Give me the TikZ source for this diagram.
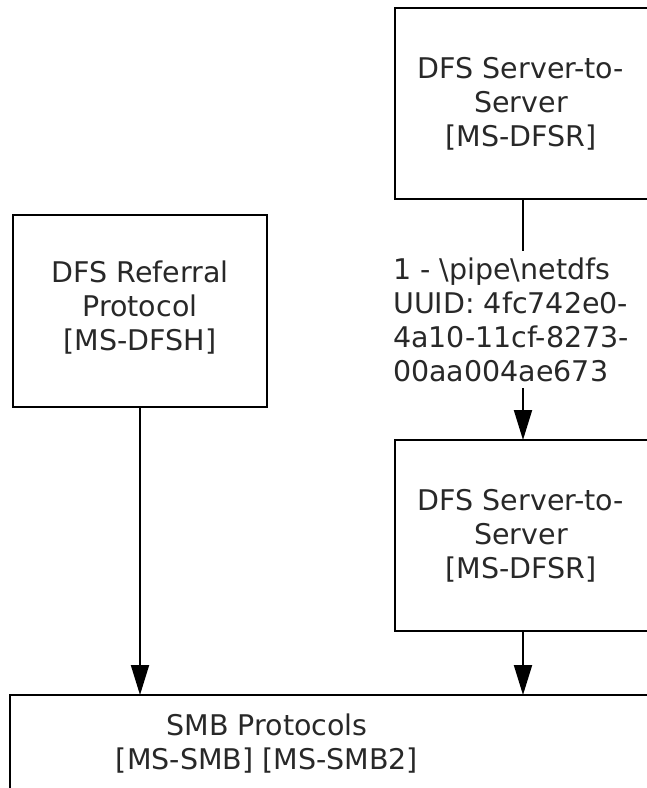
\documentclass[tikz,border=0pt]{standalone}
\usepackage{fontspec}
\setmainfont{DejaVu Sans}
\usetikzlibrary{arrows.meta}
\definecolor{txt}{RGB}{40,40,40}
\begin{document}
\begin{tikzpicture}[x=1pt,y=-1pt,
  box/.style={draw=black,line width=2.2pt},
  lbl/.style={text=txt,font=\fontsize{28.5}{34}\selectfont,align=center,inner sep=0pt},
  arr/.style={line width=2pt,-{Triangle[width=18pt,length=30pt]}}]
\useasboundingbox (0,0) rectangle (647,788);
% boxes
\draw[box] (395,8) rectangle (670,199);
\draw[box] (13,215) rectangle (267,407);
\draw[box] (395,440) rectangle (670,631);
\draw[box] (10,695) rectangle (670,810);
% texts
\node[lbl] (srv1) at (521,104) {DFS Server-to-\\Server\\{[MS-DFSR]}};
\node[lbl] (ref) at (140,308) {DFS Referral\\Protocol\\{[MS-DFSH]}};
\node[lbl] (srv2) at (521,536) {DFS Server-to-\\Server\\{[MS-DFSR]}};
\node[lbl] (smb) at (267,744) {SMB Protocols\\{[MS-SMB] [MS-SMB2]}};
\node[lbl,align=left,anchor=west] (pipe) at (393,320) {1 - \textbackslash pipe\textbackslash netdfs\\UUID: 4fc742e0-\\4a10-11cf-8273-\\00aa004ae673};
% anchors
\coordinate (s1b) at (523,199);
\coordinate (s2t) at (523,440);
\coordinate (s2b) at (523,631);
\coordinate (rb) at (140,407);
\coordinate (smbl) at (140,695);
\coordinate (smbr) at (523,695);
\coordinate (pt) at (523,251);
\coordinate (pb) at (523,388);
% connectors
\draw[line width=2pt] (s1b) -- (pt);
\draw[arr] (pb) -- (s2t);
\draw[arr] (rb) -- (smbl);
\draw[arr] (s2b) -- (smbr);
\end{tikzpicture}
\end{document}
